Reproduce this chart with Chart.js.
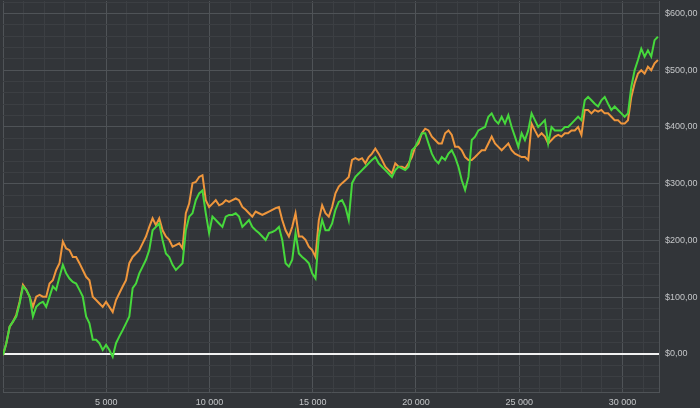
<!DOCTYPE html>
<html>
<head>
<title>Equity curve</title>
<script src="https://cdn.jsdelivr.net/npm/chart.js"></script>
<style>
  body { margin: 0; background: #323539; }
  canvas { display: block; }
</style>
</head>
<body>
<canvas id="myChart" width="700" height="408"></canvas>
<script>
// spacing of the samples along the x axis (trade number)
const sampleStep = 161;

// green curve
const greenValues = [
  -2, 19, 48, 57, 66, 89, 119, 113, 101, 66,
  83, 89, 92, 83, 101, 119, 113, 136, 157, 142,
  133, 127, 124, 113, 101, 66, 54, 25, 25, 19,
  7, 16, 7, -5, 19, 31, 42, 54, 66, 116,
  124, 142, 154, 166, 183, 218, 224, 230, 201, 177,
  171, 157, 148, 154, 160, 218, 242, 248, 271, 283,
  288, 248, 213, 242, 236, 230, 224, 242, 245, 245,
  248, 242, 224, 230, 236, 224, 218, 213, 207, 201,
  213, 215, 218, 224, 201, 160, 154, 166, 213, 177,
  171, 166, 160, 142, 133, 207, 236, 218, 218,
  230, 254, 268, 271, 259, 236, 301, 312, 318, 324,
  330, 336, 342, 347, 336, 330, 324, 318, 312, 324,
  330, 327, 324, 330, 359, 365, 377, 389, 389, 371,
  353, 342, 336, 347, 342, 353, 359, 347, 330, 306,
  289, 312, 377, 383, 394, 397, 400, 418, 424, 412,
  406, 418, 406, 421, 400, 383, 365, 389, 377, 394,
  424, 412, 400, 406, 412, 371, 400, 394, 394, 394,
  400, 400, 406, 412, 418, 412, 447, 453, 447, 441,
  436, 447, 453, 441, 430, 436, 430, 424, 418, 424,
  471, 500, 518, 538, 524, 535, 524, 553, 559
];

// orange curve
const orangeValues = [
  -2, 19, 48, 57, 69, 92, 122, 113, 101, 83,
  101, 104, 101, 101, 124, 130, 148, 160, 198, 186,
  183, 171, 171, 160, 148, 136, 130, 101, 95, 89,
  83, 92, 83, 74, 95, 107, 119, 130, 160, 171,
  177, 183, 195, 207, 224, 239, 227, 239, 218, 207,
  201, 189, 192, 195, 186, 248, 265, 301, 303, 312,
  315, 271, 259, 265, 271, 262, 265, 271, 268, 271,
  274, 271, 259, 254, 248, 242, 251, 248, 245, 248,
  251, 254, 257, 259, 236, 218, 207, 224, 248, 207,
  207, 201, 189, 183, 171, 236, 262, 248, 242,
  259, 283, 295, 301, 306, 312, 342, 345, 342, 345,
  336, 347, 353, 362, 353, 342, 330, 324, 318, 336,
  330, 330, 327, 336, 347, 365, 371, 389, 397, 394,
  383, 377, 371, 371, 389, 394, 386, 365, 365, 359,
  347, 342, 342, 347, 353, 359, 359, 371, 383, 371,
  365, 359, 365, 371, 359, 353, 350, 347, 347, 342,
  406, 394, 383, 389, 383, 371, 377, 383, 386, 383,
  389, 389, 394, 394, 400, 386, 430, 430, 424, 430,
  427, 430, 424, 424, 418, 412, 412, 406, 406, 412,
  453, 477, 494, 500, 494, 506, 500, 512, 518
];

// labelled ticks
const xLabelValues = [5000, 10000, 15000, 20000, 25000, 30000];
const yLabelValues = [0, 100, 200, 300, 400, 500, 600];

// axis ranges and minor grid steps
const xMin = 0, xMax = 31770, xMinor = 1000;
const yMin = -67, yMax = 622, yMinor = 20;

function toPoints(values) {
  return values.map(function(v, i) { return { x: i * sampleStep, y: v }; });
}

function gridTicks(from, to, step) {
  let list = [];
  for (let v = Math.ceil(from / step) * step; v <= to; v += step) list.push({ value: v });
  return list;
}

function gridColor(ctx, labels) {
  let v = ctx.tick.value;
  if (v === 0 && labels === yLabelValues) return '#f2f2f2';
  if (labels.indexOf(v) >= 0 || v === 0) return '#4f5357';
  return '#3c3f43';
}

// no extra room for labels hanging over the plot edges
function fixPadding(scale) {
  scale.paddingTop = 0;
  scale.paddingBottom = 0;
  scale.paddingLeft = 0;
  scale.paddingRight = 0;
}

const ctx = document.getElementById('myChart');
new Chart(ctx, {
  type: 'line',
  data: {
    datasets: [{
      label: 'green',
      data: toPoints(greenValues),
      borderColor: '#46d83c',
      borderWidth: 2,
      pointRadius: 0,
      tension: 0
    }, {
      label: 'orange',
      data: toPoints(orangeValues),
      borderColor: '#ef963c',
      borderWidth: 2,
      pointRadius: 0,
      tension: 0
    }]
  },
  options: {
    responsive: false,
    animation: false,
    layout: { padding: { left: 3, top: 1, right: 0, bottom: 0 } },
    plugins: { legend: { display: false }, tooltip: { enabled: false } },
    scales: {
      x: {
        type: 'linear',
        min: xMin,
        max: xMax,
        afterBuildTicks: function(scale) { scale.ticks = gridTicks(xMin, xMax, xMinor); },
        afterFit: function(scale) { scale.height = 16; fixPadding(scale); },
        grid: {
          drawTicks: false,
          color: function(c) { return gridColor(c, xLabelValues); }
        },
        border: { display: true, color: '#4f5357' },
        ticks: {
          autoSkip: false,
          maxRotation: 0,
          padding: 5,
          color: '#c4c6c8',
          font: { family: 'Liberation Sans', size: 9 },
          callback: function(v) {
            if (xLabelValues.indexOf(v) < 0) return '';
            return String(v).replace(/\B(?=(\d{3})+(?!\d))/g, ' ');
          }
        }
      },
      y: {
        position: 'right',
        min: yMin,
        max: yMax,
        afterBuildTicks: function(scale) { scale.ticks = gridTicks(yMin, yMax, yMinor); },
        afterFit: function(scale) { scale.width = 41; fixPadding(scale); },
        grid: {
          drawTicks: false,
          color: function(c) { return gridColor(c, yLabelValues); },
          lineWidth: function(c) { return c.tick.value === 0 ? 2 : 1; }
        },
        border: { display: true, color: '#4f5357' },
        ticks: {
          autoSkip: false,
          padding: 6,
          color: '#c4c6c8',
          font: { family: 'Liberation Sans', size: 9 },
          callback: function(v) {
            if (yLabelValues.indexOf(v) < 0) return '';
            return '$' + v + ',00';
          }
        }
      }
    }
  }
});
</script>
</body>
</html>
